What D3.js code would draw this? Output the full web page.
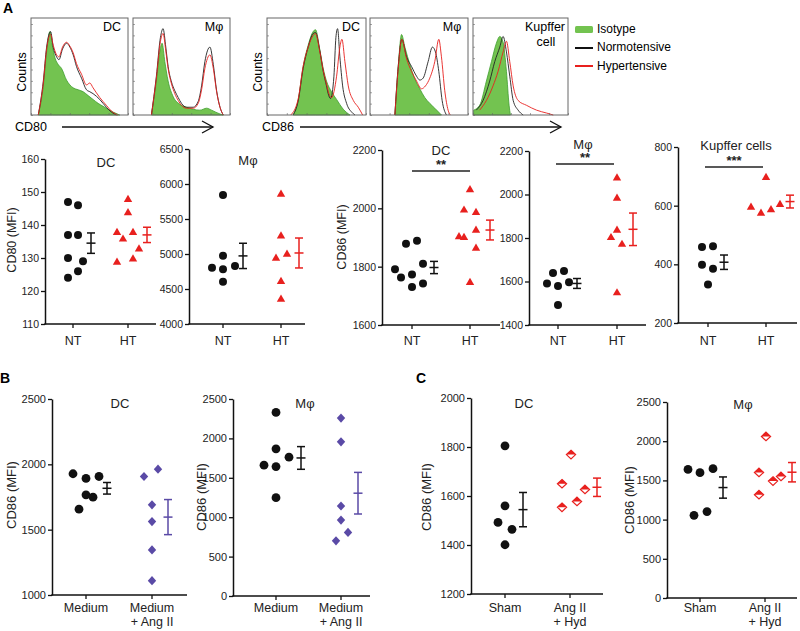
<!DOCTYPE html>
<html><head><meta charset="utf-8">
<script src="https://cdn.jsdelivr.net/npm/d3@7"></script>
<style>body{margin:0;background:#fff}svg{display:block}</style>
</head><body>
<svg id="c" width="800" height="631"></svg>
<script>
// ---------------- DATA ----------------
// Histograms (x: channel 0-100 across box, y: % of max height)
const h80DcIso = [[7.5,0],[12.7,30],[16.1,65],[19.5,86],[22.3,70],[24.7,59],[28.1,52],[31.5,48],[36.6,36],[40.1,31],[43.5,28],[48.6,26],[53.8,24],[58.9,20],[64,16],[69.2,12],[74.3,9],[84.6,3],[91.4,0]];
const h80DcNT  = [[7.5,0],[12.7,35],[16.1,70],[20.2,86],[22.9,70],[26.4,60],[28.8,57],[32.5,68],[36.6,74],[40.1,70],[43.5,62],[46.9,50],[52.1,38],[57.2,26],[60.6,24],[64,22],[70.9,16],[77.7,8],[82.9,3],[88,0]];
const h80DcHT  = [[7.5,0],[12.7,33],[16.1,68],[20.2,83],[22.9,72],[26.4,62],[28.8,60],[32.5,70],[36.6,75],[40.1,71],[43.5,64],[46.9,53],[52.1,42],[57.2,31],[60.6,33],[64,28],[70.9,18],[77.7,10],[82.9,4],[89.5,0]];
const h80MfIso = [[19,0],[24.1,35],[27.6,65],[30,74],[32.8,55],[36.2,35],[41.4,19],[48.3,11],[55.2,8],[69,5],[75.9,7],[81,5],[89.7,1],[93.1,0]];
const h80MfNT  = [[19,0],[24.1,40],[28.3,80],[31,89],[33.8,70],[36.2,50],[39.7,34],[43.1,25],[46.6,18],[50,12],[55.2,8],[62.1,8],[67.2,14],[70.7,30],[74.1,55],[79.3,70],[82.8,52],[86.2,25],[89.7,8],[93.1,0]];
const h80MfHT  = [[19,0],[24.1,38],[28.3,76],[31,84],[33.8,66],[36.2,48],[39.7,32],[43.1,22],[46.6,15],[50,10],[55.2,7],[62.1,7],[67.2,12],[70.7,26],[74.1,48],[79.3,62],[82.8,48],[86.2,24],[89.7,8],[93.1,0]];
const h86DcIso = [[26.4,0],[31.4,15],[36.5,50],[41.6,72],[46.6,86],[49,88],[53.4,67],[56.8,48],[60.1,35],[65.2,24],[70.3,16],[77,6],[83.8,0]];
const h86DcNT  = [[26.4,0],[31.4,14],[36.5,48],[41.6,70],[46.6,84],[49,85],[53.4,66],[56.8,45],[60.1,30],[61.8,22],[64.2,17],[67.6,40],[69.6,80],[71.3,89],[73.6,60],[76.4,30],[80.4,12],[85.5,3],[88.9,0]];
const h86DcHT  = [[24,0],[31.4,16],[36.5,50],[41.6,70],[46.6,82],[49,84],[53.4,65],[56.8,46],[60.1,32],[62.5,22],[65.2,18],[70.3,40],[73.6,70],[75.7,78],[78.7,55],[82.1,30],[87.2,15],[92.2,8],[96.6,0]];
const h86MfIso = [[25.4,0],[28.8,50],[32.2,83],[35.6,70],[40.7,52],[45.8,37],[50.8,27],[55.9,18],[61,12],[66.1,7],[72.9,0]];
const h86MfNT  = [[25.4,0],[28.8,50],[32.5,78],[37.3,60],[42.4,50],[47.5,40],[50.8,36],[54.2,38],[59.3,55],[63.7,70],[66.8,65],[70.2,45],[73.6,15],[78,0]];
const h86MfHT  = [[25.4,0],[28.8,48],[32.5,78],[37.3,58],[42.4,45],[47.5,35],[52.5,27],[56.6,30],[61,38],[66.1,55],[70.2,78],[72.9,60],[76.3,25],[79.7,5],[82,0]];
const h86KuIso = [[0.7,5],[7,10],[14.1,35],[19.4,55],[24.6,74],[28.2,81],[31.7,75],[35.2,45],[38,10],[39.4,0]];
const h86KuNT  = [[3.5,5],[10.6,15],[17.6,35],[22.9,55],[28.2,70],[31.7,81],[35.2,65],[38.7,40],[42.3,15],[47.5,5],[52.8,0]];
const h86KuHT  = [[7,5],[14.1,15],[21.1,30],[26.4,45],[31.7,65],[35.2,76],[38.7,55],[42.3,30],[47.5,15],[56.3,10],[66.9,5],[77.5,2],[84.5,0]];

const legendLabels = ["Isotype","Normotensive","Hypertensive"];

// Scatter data (MFI)
const cd80DcNT = [147,146,137,137,130,129,126,124];
const cd80DcHT = [148,144,138,136,138,129,130,133];
const cd80MfNT = [5843,4976,4804,4781,4829,4604];
const cd80MfHT = [5867,5271,4953,5010,4619,4367];
const cd86DcNT = [1791,1763,1773,1730,1879,1889,1810,1742];
const cd86DcHT = [2067,1997,1989,1928,1906,1903,1866,1749];
const cd86MfNT = [1591,1639,1579,1648,1597,1492];
const cd86MfHT = [2080,1987,1840,1806,1775,1552];
const cd86KuNT = [459,462,399,385,331];
const cd86KuHT = [699,598,577,589,607];
const bDcMed   = [1928,1892,1907,1767,1749,1657];
const bDcAng   = [1907,1963,1690,1562,1345,1110];
const bMfMed   = [2330,1868,1660,1643,1762,1248];
const bMfAng   = [2258,1957,1142,964,807,700];
const cDcSham  = [1805,1560,1492,1464,1401];
const cDcHyd   = [1769,1650,1554,1578,1627];
const cMfSham  = [1640,1598,1649,1055,1102];
const cMfHyd   = [2060,1602,1318,1491,1551];

const catsA = ["NT","HT"];
const catsB = [["Medium"],["Medium","+ Ang II"]];
const catsC = [["Sham"],["Ang II","+ Hyd"]];

const ticks80Dc = [110,120,130,140,150,160];
const ticks80Mf = [4000,4500,5000,5500,6000,6500];
const ticks86A  = [1600,1800,2000,2200];
const ticks86AM = [1400,1600,1800,2000,2200];
const ticksKu   = [200,400,600,800];
const ticksB1   = [1000,1500,2000,2500];
const ticksB2   = [0,500,1000,1500,2000,2500];
const ticksC1   = [1200,1400,1600,1800,2000];
const ticksC2   = [0,500,1000,1500,2000,2500];

// ---------------- LAYOUT / STYLE ----------------
const F = "'Liberation Sans', Arial, Helvetica, sans-serif";
const RED = "#e8201e", BLK = "#111", PUR = "#5a4aa6";
const GFILL = "#73c350", GLINE = "#3f9e2f";
// horizontal jitter (px) for each point, same order as data arrays
const jit = {
  a1n:[-5,5,-5,5,-5,10,5,-5], a1h:[0,0,-11,-5,5,-11,5,11],
  a2n:[0,0,-11,0,12,0],       a2h:[0,0,-5,6,0,0],
  a3n:[-17,-11,0,0,-6,5,11,11], a3h:[0,-6,6,6,-11,-6,6,0],
  a4n:[-11,-5,0,6,11,0],      a4h:[0,0,0,-6,5,0],
  a5n:[-6,5,-6,5,0],          a5h:[0,-15,-5,5,14],
  b1n:[-13,0,13,0,7,-7],      b1h:[-8,6,0,0,0,0],
  b2n:[0,0,-12,0,13,0],       b2h:[0,0,0,0,7,-5],
  c1n:[0,0,-7,7,0],           c1h:[1,-8,-8,7,15],
  c2n:[-12,0,13,-6,7],        c2h:[1,-6,-6,8,16]
};

const svg = d3.select("#c");
svg.append("rect").attr("width",800).attr("height",631).attr("fill","#fff");

// ---------- panel letters ----------
[["A",3,13],["B",0,383],["C",416,383]].forEach(([t,x,y])=>{
  svg.append("text").attr("x",x).attr("y",y).text(t)
    .attr("font-family",F).attr("font-weight","bold").attr("font-size",14);
});

// ---------- histograms ----------
function histo(x0,x1,iso,nt,ht,label){
  const y0=18,y1=115;
  const g=svg.append("g");
  const xs=d3.scaleLinear().domain([0,100]).range([x0,x1]);
  const ys=d3.scaleLinear().domain([0,100]).range([y1,y0]);
  const area=d3.area().x(d=>xs(d[0])).y0(y1).y1(d=>ys(d[1])).curve(d3.curveMonotoneX);
  const line=d3.line().x(d=>xs(d[0])).y(d=>ys(d[1])).curve(d3.curveMonotoneX);
  g.append("path").attr("d",area(iso)).attr("fill",GFILL).attr("stroke",GLINE).attr("stroke-width",0.8);
  g.append("path").attr("d",line(nt)).attr("fill","none").attr("stroke","#222").attr("stroke-width",0.9);
  g.append("path").attr("d",line(ht)).attr("fill","none").attr("stroke",RED).attr("stroke-width",0.9);
  g.append("rect").attr("x",x0).attr("y",y0).attr("width",x1-x0).attr("height",y1-y0)
    .attr("fill","none").attr("stroke","#666").attr("stroke-width",1);
  const lx=d3.scaleLog().domain([1,1e5]).range([x0,x1]);
  g.append("g").attr("transform",`translate(0,${y1})`)
    .call(d3.axisBottom(lx).ticks(5).tickSize(-2).tickFormat("").tickSizeOuter(0))
    .call(a=>{a.select(".domain").remove();a.selectAll("line").attr("stroke","#666").attr("stroke-width",0.6);});
  const ly=d3.scaleLinear().domain([0,8]).range([y1,y0+6]);
  g.append("g").attr("transform",`translate(${x0},0)`)
    .call(d3.axisRight(ly).ticks(8).tickSize(2).tickFormat("").tickSizeOuter(0))
    .call(a=>{a.select(".domain").remove();a.selectAll("line").attr("stroke","#666").attr("stroke-width",0.6);});
  label.forEach((l,i)=>{
    g.append("text").attr("x",l[1]).attr("y",31+i*15).attr("text-anchor","middle")
      .attr("font-family",F).attr("font-size",12.5).text(l[0]);
  });
}
histo(31,128,h80DcIso,h80DcNT,h80DcHT,[["DC",112]]);
histo(133,230,h80MfIso,h80MfNT,h80MfHT,[["Mφ",214]]);
histo(267,366,h86DcIso,h86DcNT,h86DcHT,[["DC",351]]);
histo(370,468,h86MfIso,h86MfNT,h86MfHT,[["Mφ",452]]);
histo(473,568,h86KuIso,h86KuNT,h86KuHT,[["Kupffer",545],["cell",546]]);

[[22,72],[258,72]].forEach(([x,y])=>{
  svg.append("text").attr("transform",`translate(${x},${y}) rotate(-90)`).attr("text-anchor","middle")
    .attr("dy","0.35em").attr("font-family",F).attr("font-size",12.5).text("Counts");
});
function arrowAxis(lbl,lx,ax0,ax1){
  svg.append("text").attr("x",lx).attr("y",131).attr("font-family",F).attr("font-size",12.5).text(lbl);
  svg.append("line").attr("x1",ax0).attr("x2",ax1).attr("y1",127).attr("y2",127).attr("stroke","#111").attr("stroke-width",1.3);
  svg.append("path").attr("d",`M${ax1-11},${121} L${ax1},127 L${ax1-11},${133}`).attr("fill","none").attr("stroke","#111").attr("stroke-width",1.3);
}
arrowAxis("CD80",15,62,213);
arrowAxis("CD86",262,300,561);

// legend
const lg=svg.append("g");
lg.append("rect").attr("x",575).attr("y",26).attr("width",18).attr("height",7).attr("rx",1.5).attr("fill",GFILL);
lg.append("line").attr("x1",575).attr("x2",593).attr("y1",48).attr("y2",48).attr("stroke","#111").attr("stroke-width",2);
lg.append("line").attr("x1",575).attr("x2",593).attr("y1",66).attr("y2",66).attr("stroke",RED).attr("stroke-width",2);
legendLabels.forEach((t,i)=>{
  lg.append("text").attr("x",597).attr("y",[33,51,70][i]).attr("font-family",F).attr("font-size",12).text(t);
});

// ---------- scatter panels ----------
function marker(g,shape,color,x,y){
  if(shape==="circle"){
    g.append("circle").attr("cx",x).attr("cy",y).attr("r",4).attr("fill",color);
  } else if(shape==="circleB"){
    g.append("circle").attr("cx",x).attr("cy",y).attr("r",4.4).attr("fill",color);
  } else if(shape==="tri"){
    g.append("path").attr("d",`M${x},${y-3.8} L${x+4.2},${y+3.4} L${x-4.2},${y+3.4}Z`).attr("fill",color);
  } else if(shape==="dia"){
    g.append("path").attr("d",`M${x},${y-4.6} L${x+4.2},${y} L${x},${y+4.6} L${x-4.2},${y}Z`).attr("fill",color);
  } else if(shape==="half"){
    g.append("path").attr("d",`M${x},${y-4.3} L${x+4.6},${y} L${x},${y+4.3} L${x-4.6},${y}Z`).attr("fill","#fff").attr("stroke",color).attr("stroke-width",1.2);
    g.append("path").attr("d",`M${x},${y-4.3} L${x+4.6},${y} L${x-4.6},${y}Z`).attr("fill",color);
  }
}
function scatter(c){
  const g=svg.append("g");
  const y=d3.scaleLinear().domain([c.ticks[0],c.ticks[c.ticks.length-1]]).range([c.bottom,c.top]);
  const x=d3.scalePoint().domain([0,1]).range(c.catX);
  const ax=g.append("g").attr("transform",`translate(${c.ax},0)`)
    .call(d3.axisLeft(y).tickValues(c.ticks).tickFormat(d3.format("d")).tickSize(4).tickPadding(2).tickSizeOuter(0));
  ax.select(".domain").attr("stroke","#111").attr("stroke-width",1.5);
  ax.selectAll(".tick line").attr("stroke","#111").attr("stroke-width",1.3);
  ax.selectAll(".tick text").attr("font-family",F).attr("font-size",c.fs).attr("fill","#222");
  g.append("line").attr("x1",c.ax-0.75).attr("x2",c.xEnd).attr("y1",c.bottom).attr("y2",c.bottom).attr("stroke","#111").attr("stroke-width",1.5);
  c.cats.forEach((lab,i)=>{
    const cx=x(i);
    g.append("line").attr("x1",cx).attr("x2",cx).attr("y1",c.bottom).attr("y2",c.bottom+4).attr("stroke","#111").attr("stroke-width",1.3);
    const lines=Array.isArray(lab)?lab:[lab];
    lines.forEach((t,j)=>{
      g.append("text").attr("x",cx).attr("y",c.lblY+j*14).attr("text-anchor","middle")
        .attr("font-family",F).attr("font-size",c.lfs).attr("fill","#222").text(t);
    });
  });
  c.groups.forEach((gr,i)=>{
    const cx=x(i);
    gr.v.forEach((v,k)=>marker(g,gr.shape,gr.color,cx+gr.j[k],y(v)));
    const m=d3.mean(gr.v), se=d3.deviation(gr.v)/Math.sqrt(gr.v.length);
    const bx=cx+gr.bo;
    const s=g.append("g").attr("stroke",gr.color).attr("stroke-width",1.5);
    s.append("line").attr("x1",bx).attr("x2",bx).attr("y1",y(m-se)).attr("y2",y(m+se));
    s.append("line").attr("x1",bx-4).attr("x2",bx+4).attr("y1",y(m-se)).attr("y2",y(m-se));
    s.append("line").attr("x1",bx-4).attr("x2",bx+4).attr("y1",y(m+se)).attr("y2",y(m+se));
    s.append("line").attr("x1",bx-4.5).attr("x2",bx+4.5).attr("y1",y(m)).attr("y2",y(m));
  });
  g.append("text").attr("x",c.title[1]).attr("y",c.title[2]).attr("text-anchor","middle").attr("dy","0.35em")
    .attr("font-family",F).attr("font-size",13).attr("fill","#222").text(c.title[0]);
  if(c.yTitle){
    g.append("text").attr("transform",`translate(${c.yTitle[1]},${c.yTitle[2]}) rotate(-90)`).attr("text-anchor","middle")
      .attr("dy","0.35em").attr("font-family",F).attr("font-size",c.yfs).attr("fill","#222").text(c.yTitle[0]);
  }
  if(c.sig){
    g.append("line").attr("x1",c.sig[0]).attr("x2",c.sig[1]).attr("y1",c.sig[2]).attr("y2",c.sig[2]).attr("stroke","#222").attr("stroke-width",1.3);
    g.append("text").attr("x",(c.sig[0]+c.sig[1])/2).attr("y",c.sig[2]-2).attr("text-anchor","middle")
      .attr("font-family",F).attr("font-size",13).attr("font-weight","bold").attr("fill","#222").text(c.sig[3]);
  }
}
const A = {fs:10.5,lfs:12.5,yfs:12.5,lblY:345};
scatter({...A,ax:45,top:159,bottom:324,ticks:ticks80Dc,catX:[73,128],xEnd:156,cats:catsA,
  title:["DC",106,162],yTitle:["CD80 (MFI)",12,240],
  groups:[{v:cd80DcNT,j:jit.a1n,shape:"circle",color:BLK,bo:18},{v:cd80DcHT,j:jit.a1h,shape:"tri",color:RED,bo:19}]});
scatter({...A,ax:189,top:149,bottom:324,ticks:ticks80Mf,catX:[223,281],xEnd:305,cats:catsA,
  title:["Mφ",248,160],
  groups:[{v:cd80MfNT,j:jit.a2n,shape:"circle",color:BLK,bo:20},{v:cd80MfHT,j:jit.a2h,shape:"tri",color:RED,bo:18}]});
scatter({...A,ax:382,top:150,bottom:325,ticks:ticks86A,catX:[412,470],xEnd:500,cats:catsA,
  title:["DC",441,150],yTitle:["CD86 (MFI)",342,237],sig:[412,470,171,"**"],
  groups:[{v:cd86DcNT,j:jit.a3n,shape:"circle",color:BLK,bo:22},{v:cd86DcHT,j:jit.a3h,shape:"tri",color:RED,bo:20}]});
scatter({...A,ax:529,top:151,bottom:325,ticks:ticks86AM,catX:[558,617],xEnd:646,cats:catsA,
  title:["Mφ",583,144],sig:[556,614,164,"**"],
  groups:[{v:cd86MfNT,j:jit.a4n,shape:"circle",color:BLK,bo:19},{v:cd86MfHT,j:jit.a4h,shape:"tri",color:RED,bo:16}]});
scatter({...A,ax:678,top:147,bottom:323,ticks:ticksKu,catX:[708,766],xEnd:797,cats:catsA,
  title:["Kupffer cells",736,145],sig:[705,763,167,"***"],
  groups:[{v:cd86KuNT,j:jit.a5n,shape:"circle",color:BLK,bo:16},{v:cd86KuHT,j:jit.a5h,shape:"tri",color:RED,bo:24}]});

const B = {fs:11,lfs:12.5,yfs:13,lblY:612};
scatter({...B,ax:52,top:399,bottom:595,ticks:ticksB1,catX:[86,152],xEnd:187,cats:catsB,
  title:["DC",120,403],yTitle:["CD86 (MFI)",11,495],
  groups:[{v:bDcMed,j:jit.b1n,shape:"circleB",color:BLK,bo:21},{v:bDcAng,j:jit.b1h,shape:"dia",color:PUR,bo:16}]});
scatter({...B,ax:233,top:399,bottom:596,ticks:ticksB2,catX:[276,341],xEnd:370,cats:catsB,
  title:["Mφ",305,403],yTitle:["CD86 (MFI)",201,497],
  groups:[{v:bMfMed,j:jit.b2n,shape:"circleB",color:BLK,bo:25},{v:bMfAng,j:jit.b2h,shape:"dia",color:PUR,bo:17}]});
scatter({...B,ax:471,top:398,bottom:594,ticks:ticksC1,catX:[505,570],xEnd:603,cats:catsC,
  title:["DC",524,403],yTitle:["CD86 (MFI)",426,497],
  groups:[{v:cDcSham,j:jit.c1n,shape:"circleB",color:BLK,bo:18},{v:cDcHyd,j:jit.c1h,shape:"half",color:RED,bo:27}]});
scatter({...B,ax:667,top:402,bottom:598,ticks:ticksC2,catX:[700,765],xEnd:797,cats:catsC,
  title:["Mφ",743,404],yTitle:["CD86 (MFI)",629,500],
  groups:[{v:cMfSham,j:jit.c2n,shape:"circleB",color:BLK,bo:23},{v:cMfHyd,j:jit.c2h,shape:"half",color:RED,bo:27}]});
</script>
</body></html>
